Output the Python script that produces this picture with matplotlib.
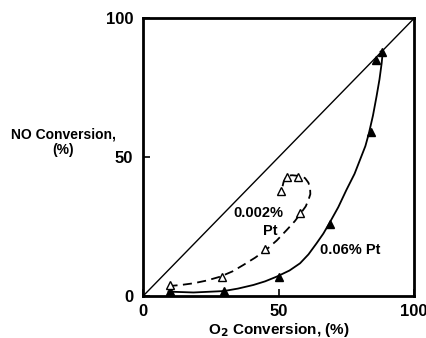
import matplotlib
matplotlib.use("Agg")
import matplotlib.pyplot as plt

plt.rcParams['font.family'] = ['Liberation Sans', 'DejaVu Sans']
plt.rcParams['font.weight'] = 'bold'

# 0.06% Pt (filled triangles)
hi_x = [10, 30, 50, 69, 84, 86, 88]
hi_y = [2, 2, 7, 26, 59, 85, 88]
# 0.002% Pt (open triangles)
lo_x = [10, 29, 45, 58, 51, 53, 57]
lo_y = [4, 7, 17, 30, 38, 43, 43]

# curve traces
hi_curve_x = [9.4, 18.6, 29.7, 35, 40.7, 45, 49.3, 54, 57.9, 61, 64, 66.5, 68.7, 72, 75, 78, 80, 82, 83.3,
              84.8, 86.1, 87.2, 88, 88.3, 87.6]
hi_curve_y = [1.6, 1.3, 1.8, 2.7, 4.0, 5.3, 7.0, 9.2, 11.8, 15, 19, 22.5, 26.2, 32, 38.2, 44, 49, 54, 58.6,
              65, 71.8, 78, 83.8, 86.8, 88]
lo_curve_x = [9.4, 14, 18.6, 23.5, 28.5, 33, 37, 41.3, 45.3, 49.3, 53, 56, 58.3, 60, 61, 61.7, 61.6, 61,
              59.8, 58.5, 57, 55, 53, 51.8, 51.2]
lo_curve_y = [3.6, 4.0, 4.6, 5.6, 7.0, 8.9, 11.2, 13.8, 16.6, 20, 23.8, 27, 30, 32.3, 34.6, 36.7, 38.8, 40.8,
              42.4, 43.2, 43.3, 43.5, 43.3, 41, 38.4]

ticks = [0, 50, 100]

fig = plt.figure(figsize=(4.27, 3.38), dpi=100)
ax = fig.add_axes([0.335, 0.124, 0.635, 0.822])
ax.set_xlim(0, 100)
ax.set_ylim(0, 100)

ax.plot([0, 100], [0, 100], color='black', lw=1.0)
ax.plot(hi_curve_x, hi_curve_y, color='black', lw=1.3)
ax.plot(lo_curve_x, lo_curve_y, color='black', lw=1.3, ls=(0, (5, 3)))
ax.plot(hi_x, hi_y, ls='none', marker='^', ms=5.5, color='black')
ax.plot(lo_x, lo_y, ls='none', marker='^', ms=5.5, mfc='white', mec='black', mew=1.0)

ax.text(42.6, 29.8, '0.002%', ha='center', va='center', fontsize=10.5, fontweight='bold')
ax.text(46.9, 23.3, 'Pt', ha='center', va='center', fontsize=10.5, fontweight='bold')
ax.text(76.4, 16.6, '0.06% Pt', ha='center', va='center', fontsize=10.5, fontweight='bold')

ax.set_xticks(ticks)
ax.set_yticks(ticks)
ax.set_xticklabels([str(t) for t in ticks], fontsize=12, fontweight='bold')
ax.set_yticklabels([str(t) for t in ticks], fontsize=12, fontweight='bold')
ax.tick_params(direction='in', length=5, width=1.2)
ax.tick_params(axis='x', pad=6)
ax.tick_params(axis='y', pad=7)
for s in ax.spines.values():
    s.set_linewidth(2)

ax.set_xlabel('O$_2$ Conversion, (%)', fontsize=11, fontweight='bold', labelpad=1)
fig.text(0.148, 0.58, 'NO Conversion,\n(%)', ha='center', va='center',
         fontsize=10, fontweight='bold', linespacing=1.15)

fig.savefig('out.png', dpi=100)
